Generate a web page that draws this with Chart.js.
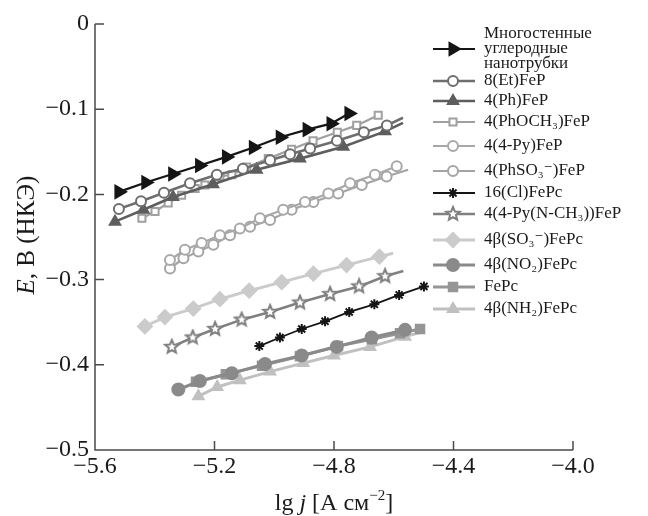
<!DOCTYPE html>
<html><head><meta charset="utf-8">
<script src="https://cdn.jsdelivr.net/npm/chart.js@4/dist/chart.umd.min.js"></script>
<style>html,body{margin:0;padding:0;background:#fff}</style>
</head><body>
<canvas id="c" width="648" height="516"></canvas>
<script>
// ---- data ----
const names = [
  "Многостенные\nуглеродные\nнанотрубки",
  "8(Et)FeP",
  "4(Ph)FeP",
  "4(PhOCH₃)FeP",
  "4(4-Py)FeP",
  "4(PhSO₃⁻)FeP",
  "16(Cl)FePc",
  "4(4-Py(N-CH₃))FeP",
  "4β(SO₃⁻)FePc",
  "4β(NO₂)FePc",
  "FePc",
  "4β(NH₂)FePc"
];
const xMWCNT = [-5.52,-5.43,-5.34,-5.25,-5.16,-5.07,-4.98,-4.89,-4.81,-4.75];
const yMWCNT = [-0.197,-0.186,-0.176,-0.166,-0.156,-0.145,-0.133,-0.124,-0.117,-0.105];
const xEt = [-5.520,-5.446,-5.369,-5.282,-5.192,-5.105,-5.014,-4.947,-4.880,-4.790,-4.700,-4.623,-4.569];
const yEt = [-0.217,-0.208,-0.198,-0.187,-0.177,-0.170,-0.160,-0.153,-0.146,-0.137,-0.127,-0.119,-0.110];
const xPh = [-5.533,-5.438,-5.339,-5.205,-5.059,-4.914,-4.769,-4.629,-4.569];
const yPh = [-0.232,-0.218,-0.203,-0.188,-0.171,-0.158,-0.144,-0.126,-0.116];
const xPhOCH3 = [-5.443,-5.399,-5.355,-5.310,-5.265,-5.232,-5.182,-5.142,-5.092,-5.020,-4.942,-4.870,-4.789,-4.724,-4.652];
const yPhOCH3 = [-0.228,-0.220,-0.210,-0.201,-0.193,-0.189,-0.179,-0.177,-0.168,-0.158,-0.147,-0.137,-0.127,-0.119,-0.107];
const xPy = [-5.349,-5.299,-5.243,-5.182,-5.115,-5.048,-4.970,-4.897,-4.819,-4.746,-4.663,-4.590];
const yPy = [-0.277,-0.265,-0.257,-0.248,-0.240,-0.228,-0.218,-0.209,-0.199,-0.187,-0.177,-0.167];
const xPhSO3 = [-5.349,-5.304,-5.254,-5.204,-5.148,-5.081,-5.014,-4.942,-4.869,-4.786,-4.707,-4.624,-4.552];
const yPhSO3 = [-0.287,-0.275,-0.267,-0.259,-0.248,-0.238,-0.230,-0.218,-0.209,-0.199,-0.189,-0.179,-0.171];
const xCl = [-5.050,-4.981,-4.908,-4.830,-4.749,-4.665,-4.582,-4.499];
const yCl = [-0.378,-0.368,-0.358,-0.349,-0.338,-0.329,-0.318,-0.308];
const xPyNCH3 = [-5.343,-5.273,-5.198,-5.109,-5.014,-4.914,-4.813,-4.716,-4.629,-4.568];
const yPyNCH3 = [-0.379,-0.368,-0.358,-0.347,-0.338,-0.327,-0.317,-0.308,-0.296,-0.290];
const xSO3Pc = [-5.433,-5.366,-5.271,-5.182,-5.084,-4.975,-4.869,-4.758,-4.648,-4.602];
const ySO3Pc = [-0.355,-0.344,-0.334,-0.323,-0.313,-0.303,-0.293,-0.283,-0.273,-0.269];
const xNO2 = [-5.321,-5.249,-5.142,-5.031,-4.908,-4.791,-4.674,-4.562];
const yNO2 = [-0.429,-0.419,-0.410,-0.399,-0.389,-0.379,-0.368,-0.359];
const xFePc = [-5.262,-5.162,-5.041,-4.914,-4.787,-4.673,-4.579,-4.512];
const yFePc = [-0.420,-0.411,-0.401,-0.390,-0.378,-0.370,-0.363,-0.358];
const xNH2 = [-5.254,-5.191,-5.115,-5.014,-4.903,-4.800,-4.679,-4.562,-4.501];
const yNH2 = [-0.437,-0.426,-0.418,-0.408,-0.398,-0.389,-0.379,-0.367,-0.361];
const xTicks = [-5.6,-5.2,-4.8,-4.4,-4.0];
const yTicks = [-0.5,-0.4,-0.3,-0.2,-0.1,0];

// ---- styling ----
function starImg(r, col, fill){
  const s = Math.ceil(2*r+4), c = document.createElement('canvas');
  c.width = s; c.height = s;
  const g = c.getContext('2d');
  g.beginPath();
  for (let k=0;k<10;k++){
    const a = -Math.PI/2 + k*Math.PI/5, rr = k%2 ? r*0.45 : r;
    const px = s/2 + rr*Math.cos(a), py = s/2 + rr*Math.sin(a);
    k ? g.lineTo(px,py) : g.moveTo(px,py);
  }
  g.closePath(); g.fillStyle = fill; g.fill();
  g.lineWidth = 2; g.strokeStyle = col; g.stroke();
  return c;
}
const FONT = "'Liberation Serif', 'DejaVu Serif', serif";
const pairs = (xs, ys) => xs.map((v,i)=>({x:v, y:ys[i]}));
const styles = [
  {c:'#151515', w:2.2, ps:'triangle', r:7, rot:90, bg:'#151515'},
  {c:'#6e6e6e', w:2.6, ps:'circle', r:5, bg:'#fff', tail:true},
  {c:'#5e5e5e', w:2.6, ps:'triangle', r:6, bg:'#5e5e5e', tail:true},
  {c:'#a0a0a0', w:2.2, ps:'rect', r:5, bg:'#fff'},
  {c:'#a8a8a8', w:2.2, ps:'circle', r:5, bg:'#fff'},
  {c:'#a4a4a4', w:2.2, ps:'circle', r:5, bg:'#fff', tail:true},
  {c:'#151515', w:1.8, ps:'star', r:5, bg:'#151515'},
  {c:'#808080', w:2.6, ps:starImg(7,'#808080','#fff'), r:7, bg:'#fff', tail:true},
  {c:'#cbcbcb', w:3, ps:'rectRot', r:7, bg:'#cbcbcb', tail:true},
  {c:'#8a8a8a', w:3, ps:'circle', r:6, bg:'#8a8a8a'},
  {c:'#959595', w:3, ps:'rect', r:6, bg:'#959595'},
  {c:'#c0c0c0', w:3, ps:'triangle', r:6, bg:'#c0c0c0', tail:true}
];
const series = [
  pairs(xMWCNT,yMWCNT), pairs(xEt,yEt), pairs(xPh,yPh), pairs(xPhOCH3,yPhOCH3),
  pairs(xPy,yPy), pairs(xPhSO3,yPhSO3), pairs(xCl,yCl), pairs(xPyNCH3,yPyNCH3),
  pairs(xSO3Pc,ySO3Pc), pairs(xNO2,yNO2), pairs(xFePc,yFePc), pairs(xNH2,yNH2)
];
const datasets = series.map((d,i)=>{
  const s = styles[i];
  return {
    label: names[i], data: d,
    borderColor: s.c, borderWidth: s.w,
    pointStyle: s.ps, pointRotation: s.rot || 0,
    pointBackgroundColor: s.bg, pointBorderColor: s.c,
    pointBorderWidth: 2,
    pointRadius: ctx => (s.tail && ctx.dataIndex === d.length-1) ? 0 : s.r,
    pointHoverRadius: 0, tension: 0, fill: false
  };
});
const fmt = v => (Math.abs(v) < 1e-9 ? '0' : (v<0?'−':'') + Math.abs(v).toFixed(1));

const decor = {
  id:'decor',
  afterDraw(chart){
    const ctx = chart.ctx, a = chart.chartArea, xs = chart.scales.x, ys = chart.scales.y;
    ctx.save();
    ctx.strokeStyle = '#4a4a4a'; ctx.lineWidth = 1.5;
    ctx.beginPath();
    ctx.moveTo(a.left, a.top); ctx.lineTo(a.left, a.bottom); ctx.lineTo(a.right, a.bottom);
    yTicks.forEach(v=>{ const p = ys.getPixelForValue(v); ctx.moveTo(a.left,p); ctx.lineTo(a.left+9,p); });
    xTicks.forEach(v=>{ const p = xs.getPixelForValue(v); ctx.moveTo(p,a.bottom); ctx.lineTo(p,a.bottom-9); });
    ctx.stroke();
    // axis titles
    ctx.fillStyle = '#1a1a1a'; ctx.textBaseline = 'alphabetic';
    const parts = [['lg ', 'normal', 24, 0], ['j', 'italic', 24, 0], [' [A см', 'normal', 24, 0], ['−2', 'normal', 15, -10], [']', 'normal', 24, 0]];
    let tw = 0;
    parts.forEach(p=>{ ctx.font = p[1]+' '+p[2]+'px '+FONT; tw += ctx.measureText(p[0]).width; });
    let x0 = (a.left + a.right)/2 - tw/2; const by = 510;
    parts.forEach(p=>{ ctx.font = p[1]+' '+p[2]+'px '+FONT; ctx.fillText(p[0], x0, by + p[3]); x0 += ctx.measureText(p[0]).width; });
    ctx.save();
    ctx.translate(34, 235); ctx.rotate(-Math.PI/2);
    const yp = [['E', 'italic'], [', В (НКЭ)', 'normal']];
    let tw2 = 0;
    yp.forEach(p=>{ ctx.font = p[1]+' 25px '+FONT; tw2 += ctx.measureText(p[0]).width; });
    let y0 = -tw2/2;
    yp.forEach(p=>{ ctx.font = p[1]+' 25px '+FONT; ctx.fillText(p[0], y0, 0); y0 += ctx.measureText(p[0]).width; });
    ctx.restore();
    // legend
    const lx0 = 433, lx1 = 475, mx = 453, tx = 484;
    const rows = [49, 81, 101, 122, 146, 171, 193, 214, 240, 265, 287, 309];
    chart.data.datasets.forEach((ds,i)=>{
      const y = rows[i], s = styles[i];
      ctx.strokeStyle = ds.borderColor; ctx.lineWidth = ds.borderWidth;
      ctx.beginPath(); ctx.moveTo(lx0,y); ctx.lineTo(lx1,y); ctx.stroke();
      ctx.fillStyle = s.bg; ctx.strokeStyle = s.c; ctx.lineWidth = 2;
      Chart.helpers.drawPoint(ctx, {pointStyle: s.ps, radius: s.r, borderWidth: 2, rotation: s.rot || 0}, mx, y);
      ctx.fillStyle = '#1a1a1a'; ctx.font = '17px '+FONT; ctx.textBaseline = 'middle';
      const lines = ds.label.split('\n');
      lines.forEach((t,k)=>{ ctx.fillText(t, tx, y + (k - (lines.length-1)/2)*15); });
    });
    ctx.restore();
  }
};

new Chart(document.getElementById('c'), {
  type: 'line',
  data: { datasets },
  options: {
    responsive: false, animation: false, devicePixelRatio: 1,
    layout: { padding: { left: 0, top: 24, right: 75, bottom: 0 } },
    plugins: { legend: { display: false }, tooltip: { enabled: false } },
    scales: {
      x: {
        type: 'linear', min: -5.6, max: -4.0,
        afterBuildTicks: sc => { sc.ticks = xTicks.map(v=>({value:v})); },
        afterFit: sc => { sc.height = 66; },
        grid: { display: false, drawTicks: false }, border: { display: false },
        ticks: { callback: fmt, padding: 2, color: '#1a1a1a', font: { family: FONT, size: 24 }, maxRotation: 0 }
      },
      y: {
        type: 'linear', min: -0.5, max: 0,
        afterBuildTicks: sc => { sc.ticks = yTicks.map(v=>({value:v})); },
        afterFit: sc => { sc.width = 95; },
        grid: { display: false, drawTicks: false }, border: { display: false },
        ticks: { callback: fmt, padding: 6, color: '#1a1a1a', font: { family: FONT, size: 24 } }
      }
    }
  },
  plugins: [decor]
});
</script>
</body></html>
